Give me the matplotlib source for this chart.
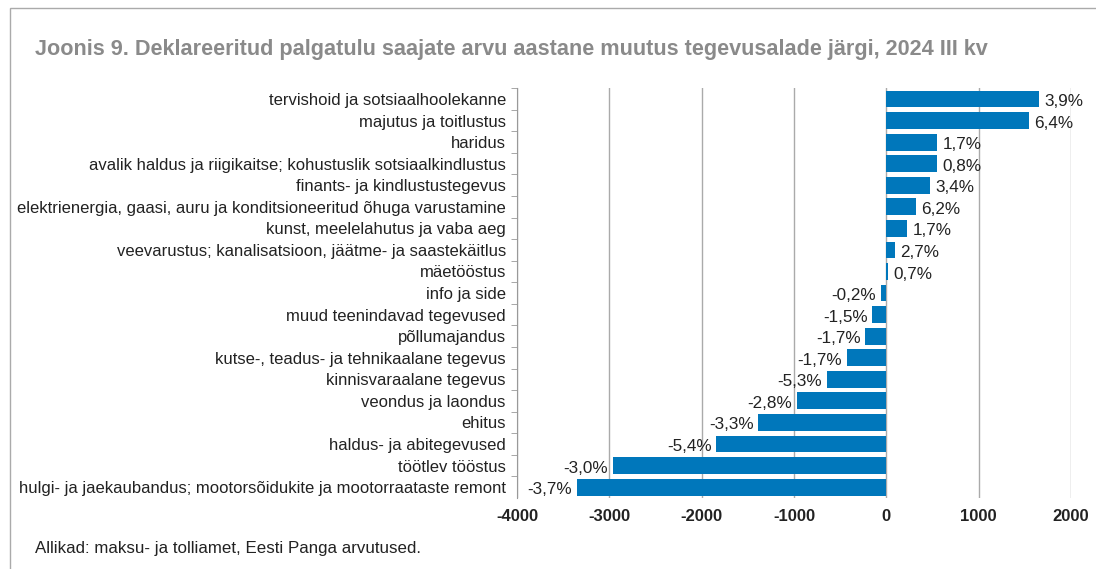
import matplotlib.pyplot as plt
from matplotlib.patches import Rectangle

plt.rcParams['font.family'] = ['Liberation Sans', 'DejaVu Sans']

# tegevusalad (ülevalt alla)
categories = [
    'tervishoid ja sotsiaalhoolekanne',
    'majutus ja toitlustus',
    'haridus',
    'avalik haldus ja riigikaitse; kohustuslik sotsiaalkindlustus',
    'finants- ja kindlustustegevus',
    'elektrienergia, gaasi, auru ja konditsioneeritud õhuga varustamine',
    'kunst, meelelahutus ja vaba aeg',
    'veevarustus; kanalisatsioon, jäätme- ja saastekäitlus',
    'mäetööstus',
    'info ja side',
    'muud teenindavad tegevused',
    'põllumajandus',
    'kutse-, teadus- ja tehnikaalane tegevus',
    'kinnisvaraalane tegevus',
    'veondus ja laondus',
    'ehitus',
    'haldus- ja abitegevused',
    'töötlev tööstus',
    'hulgi- ja jaekaubandus; mootorsõidukite ja mootorraataste remont',
]
# muutus inimestes
changes = [1651, 1544, 550, 546, 472, 316, 222, 94, 16, -62, -152, -230,
           -431, -645, -969, -1388, -1844, -2961, -3351]
# muutus protsentides
pct_labels = ['3,9%', '6,4%', '1,7%', '0,8%', '3,4%', '6,2%', '1,7%', '2,7%',
              '0,7%', '-0,2%', '-1,5%', '-1,7%', '-1,7%', '-5,3%', '-2,8%',
              '-3,3%', '-5,4%', '-3,0%', '-3,7%']
xticks = [-4000, -3000, -2000, -1000, 0, 1000, 2000]

fig = plt.figure(figsize=(10.96, 5.69), dpi=100)
ax = fig.add_axes([0.4717, 0.125, 0.5055, 0.72])

ypos = list(range(len(categories)))[::-1]
ax.barh(ypos, changes, height=0.78, color='#0077bb', zorder=3)

for y, v, lab in zip(ypos, changes, pct_labels):
    if v >= 0:
        ax.text(v + 60, y - 0.12, lab, ha='left', va='center', fontsize=12.3, color='#222222', zorder=4)
    else:
        ax.text(v - 50, y - 0.12, lab, ha='right', va='center', fontsize=12.3, color='#222222', zorder=4)

ax.set_xlim(-4000, 2000)
ax.set_ylim(-0.5, len(categories) - 0.5)
ax.set_xticks(xticks)
ax.set_xticklabels([str(t) for t in xticks], fontsize=12, fontweight='bold', color='#222222')
ax.tick_params(axis='x', length=0, pad=8)

ax.set_yticks(ypos)
ax.set_yticklabels(categories, fontsize=12.0, color='#222222')
ax.set_yticks([y + 0.5 for y in range(len(categories))], minor=True)
ax.tick_params(axis='y', which='major', length=0, pad=8)
ax.tick_params(axis='y', which='minor', length=4, color='#999999', direction='out')

ax.grid(axis='x', color='#aaaaaa', linewidth=1, zorder=0)
for s in ['top', 'right', 'bottom']:
    ax.spines[s].set_visible(False)
ax.spines['left'].set_color('#999999')

fig.text(35 / 1096, 1 - 50 / 569, 'Joonis 9. Deklareeritud palgatulu saajate arvu aastane muutus tegevusalade järgi, 2024 III kv',
         fontsize=15.6, fontweight='bold', color='#8a8a8a', va='center', ha='left')
fig.text(35 / 1096, 1 - 549 / 569, 'Allikad: maksu- ja tolliamet, Eesti Panga arvutused.',
         fontsize=12.2, color='#222222', va='center', ha='left')

fig.patches.append(Rectangle((10 / 1096, -0.1), 1.2, 1.1 - 8 / 569, transform=fig.transFigure,
                             fill=False, edgecolor='#aaaaaa', linewidth=1))

fig.savefig('out.png', dpi=100)
